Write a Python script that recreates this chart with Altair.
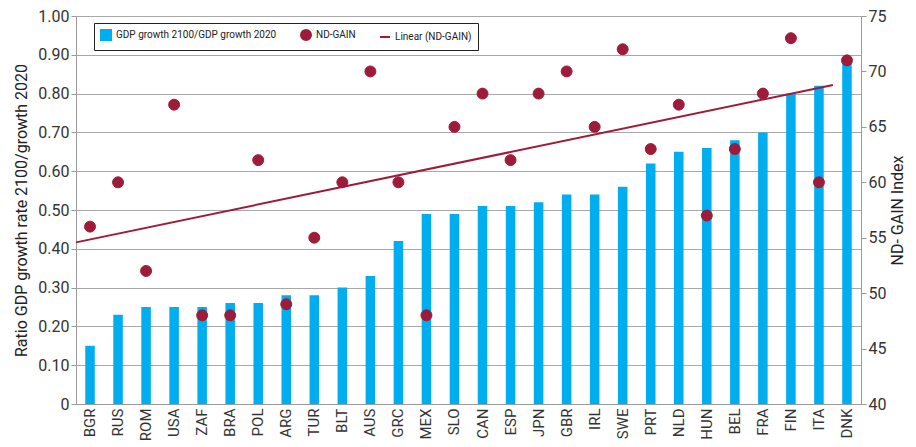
import altair as alt
import pandas as pd

countries = ["BGR", "RUS", "ROM", "USA", "ZAF", "BRA", "POL", "ARG", "TUR", "BLT",
             "AUS", "GRC", "MEX", "SLO", "CAN", "ESP", "JPN", "GBR", "IRL", "SWE",
             "PRT", "NLD", "HUN", "BEL", "FRA", "FIN", "ITA", "DNK"]
gdp_ratio = [0.15, 0.23, 0.25, 0.25, 0.25, 0.26, 0.26, 0.28, 0.28, 0.30,
             0.33, 0.42, 0.49, 0.49, 0.51, 0.51, 0.52, 0.54, 0.54, 0.56,
             0.62, 0.65, 0.66, 0.68, 0.70, 0.80, 0.82, 0.88]
nd_gain = [56, 60, 52, 67, 48, 48, 62, 49, 55, 60,
           70, 60, 48, 65, 68, 62, 68, 70, 65, 72,
           63, 67, 57, 63, 68, 73, 60, 71]
series_names = ["GDP growth 2100/GDP growth 2020", "ND-GAIN", "Linear (ND-GAIN)"]
left_ticks = [0, 0.1, 0.2, 0.3, 0.4, 0.5, 0.6, 0.7, 0.8, 0.9, 1.0]
right_ticks = [40, 45, 50, 55, 60, 65, 70, 75]

BLUE = "#00aeef"
RED = "#9e1b3a"
FONT = "Roboto"

df = pd.DataFrame({
    "country": countries,
    "ratio": gdp_ratio,
    "gain": nd_gain,
    "idx": list(range(len(countries))),
    "series": ["ND-GAIN"] * len(countries),
})

x_enc = alt.X(
    "country:N", sort=countries,
    scale=alt.Scale(paddingInner=0.66, paddingOuter=0.33),
    axis=alt.Axis(title=None, labelAngle=270, ticks=False, domainColor="#9a9a9a",
                  labelFontSize=15, labelPadding=4, labelColor="#333333",
                  labelBaseline="middle", labelAlign="right"),
)

bars = alt.Chart(df).mark_bar(color=BLUE).encode(
    x=x_enc,
    y=alt.Y("ratio:Q", scale=alt.Scale(domain=[0, 1], nice=False),
            axis=alt.Axis(orient="left", values=left_ticks,
                          labelExpr="datum.value == 0 ? '0' : format(datum.value, '.2f')",
                          title="Ratio GDP growth rate 2100/growth 2020",
                          grid=True, gridColor="#a8a8a8", gridWidth=1,
                          domainColor="#9a9a9a", tickColor="#9a9a9a", tickSize=5,
                          labelFontSize=16, labelColor="#333333",
                          titleFontSize=16, titleFontWeight="normal",
                          titleColor="#222222", titlePadding=8)),
)

legend_def = alt.Legend(
    title=None, orient="none", direction="horizontal", legendX=18, legendY=7,
    strokeColor="#222222", fillColor="white", padding=6, labelFontSize=10,
    labelColor="#222222", symbolSize=100, symbolStrokeWidth=2, columnPadding=20,
    labelLimit=400, labelFont=FONT,
)
color_scale = alt.Scale(domain=series_names, range=[BLUE, RED, RED])

points = alt.Chart(df).mark_point(filled=True, opacity=1, size=120, strokeWidth=1).encode(
    x=x_enc,
    y=alt.Y("gain:Q", scale=alt.Scale(domain=[40, 75], nice=False, zero=False),
            axis=alt.Axis(orient="right", values=right_ticks, title="ND- GAIN Index",
                          titleAngle=270, titleBaseline="top", grid=False,
                          domainColor="#9a9a9a", tickColor="#9a9a9a", tickSize=5,
                          labelFontSize=16, labelColor="#333333", titleFontSize=16,
                          titleFontWeight="normal", titleColor="#222222",
                          titlePadding=4)),
    fill=alt.Fill("series:N", scale=color_scale, legend=legend_def),
    stroke=alt.Stroke("series:N", scale=color_scale, legend=legend_def),
    shape=alt.Shape("series:N",
                    scale=alt.Scale(domain=series_names, range=["square", "circle", "stroke"]),
                    legend=legend_def),
)

line = alt.Chart(df).transform_regression(
    "idx", "gain", extent=[0, 27]
).mark_line(color=RED, strokeWidth=2).encode(
    x=alt.X("idx:Q", scale=alt.Scale(domain=[0, len(countries)], nice=False, zero=False), axis=None),
    y=alt.Y("gain:Q", scale=alt.Scale(domain=[40, 75], nice=False, zero=False), axis=None),
)

inner = alt.layer(bars, points).resolve_scale(y="independent")
chart = alt.layer(inner, line).resolve_scale(x="independent", y="independent").properties(
    width=785, height=388,
    padding={"left": 5, "top": 0, "right": 0, "bottom": 0},
    background="white",
).configure_view(stroke=None).configure(font=FONT)

chart.save("out.html", embed_options={"renderer": "svg", "actions": False})
